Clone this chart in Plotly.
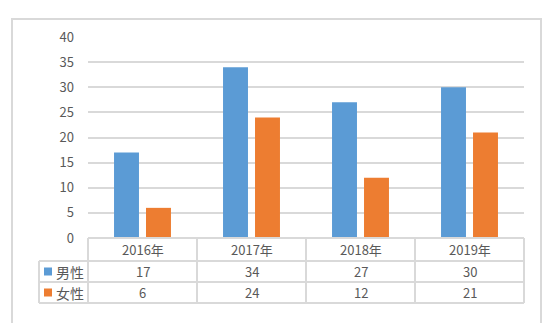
import plotly.graph_objects as go

# Chart data
categories = ["2016年", "2017年", "2018年", "2019年"]
series_names = ["男性", "女性"]
male = [17, 34, 27, 30]
female = [6, 24, 12, 21]
y_ticks = [0, 5, 10, 15, 20, 25, 30, 35, 40]

colors = ["#5B9BD5", "#ED7D31"]
grid = "#D9D9D9"
txt = "#595959"
FONT = "Noto Sans CJK SC, Liberation Sans, sans-serif"

W, H = 553, 323
# plot area in pixels
PL, PR, PT, PB = 88, 524, 37, 238


def px(x):
    return (x - PL) / (PR - PL)


def py(y):
    return (PB - y) / (PB - PT)


fig = go.Figure()
for name, vals, col in zip(series_names, [male, female], colors):
    fig.add_trace(go.Bar(x=categories, y=vals, name=name, marker=dict(color=col, line=dict(width=0))))

shapes = []
annotations = []
line = dict(color=grid, width=2)

# outer frame
shapes.append(dict(type="rect", xref="paper", yref="paper",
                   x0=px(12), x1=px(541), y0=py(19), y1=py(340), line=line))

# data table rows
row_y = [238, 261, 282, 303]
shapes.append(dict(type="line", xref="paper", yref="paper", x0=px(88), x1=px(524),
                   y0=py(238), y1=py(238), line=line))
for yy in row_y[1:]:
    shapes.append(dict(type="line", xref="paper", yref="paper", x0=px(39), x1=px(524),
                       y0=py(yy), y1=py(yy), line=line))
# column separators
n = len(categories)
shapes.append(dict(type="line", xref="paper", yref="paper", x0=px(39), x1=px(39),
                   y0=py(261), y1=py(303), line=line))
for i in range(n + 1):
    xx = i / n
    shapes.append(dict(type="line", xref="paper", yref="paper", x0=xx, x1=xx,
                       y0=py(238), y1=py(303), line=line))

# category header row
for i, c in enumerate(categories):
    annotations.append(dict(xref="paper", yref="paper", x=(i + 0.5) / n, y=py(249.5),
                            text=c, showarrow=False, font=dict(size=13, color=txt, family=FONT),
                            xanchor="center", yanchor="middle"))

# series rows with legend keys
rows = [(male, 271.5), (female, 292.5)]
for (vals, yc), name, col in zip(rows, series_names, colors):
    shapes.append(dict(type="rect", xref="paper", yref="paper", x0=px(44), x1=px(52),
                       y0=py(yc - 4), y1=py(yc + 4), fillcolor=col, line=dict(width=0)))
    annotations.append(dict(xref="paper", yref="paper", x=px(54), y=py(yc),
                            text=name, showarrow=False, font=dict(size=14, color=txt, family=FONT),
                            xanchor="left", yanchor="middle"))
    for i, v in enumerate(vals):
        annotations.append(dict(xref="paper", yref="paper", x=(i + 0.5) / n, y=py(yc),
                                text=str(v), showarrow=False, font=dict(size=13, color=txt, family=FONT),
                                xanchor="center", yanchor="middle"))

fig.update_layout(
    width=W, height=H,
    margin=dict(l=PL, r=W - PR, t=PT, b=H - PB),
    paper_bgcolor="white", plot_bgcolor="white",
    barmode="group", bargap=0.413, bargroupgap=0.22,
    showlegend=False,
    shapes=shapes, annotations=annotations,
    font=dict(family=FONT, color=txt),
    xaxis=dict(showticklabels=False, showgrid=False, zeroline=False, showline=False, ticks=""),
    yaxis=dict(range=[0, 40], tickvals=y_ticks, showgrid=True, gridcolor=grid, gridwidth=2,
               zeroline=False, showline=False, ticks="", ticklabelstandoff=13,
               tickfont=dict(size=13, color=txt, family=FONT)),
)

fig.write_html("out.html")
